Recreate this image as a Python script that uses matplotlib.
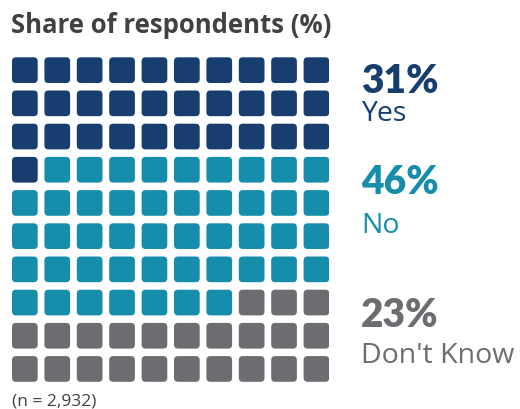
import matplotlib
matplotlib.use("Agg")
import matplotlib.pyplot as plt
from matplotlib.patches import FancyBboxPatch

# Survey answers (percent of respondents)
categories = ["Yes", "No", "Don't Know"]
shares = [31, 46, 23]
colors = ["#173e6f", "#168eab", "#6c6d70"]
title = "Share of respondents (%)"
note = "(n = 2,932)"

W, H = 520, 409
fig = plt.figure(figsize=(W / 100, H / 100), dpi=100)
fig.patch.set_facecolor("white")

def fx(px):
    return px / W

def fy(py):
    return 1 - py / H

# Waffle grid: 10 x 10 cells, filled row by row from the top-left
n_cols, n_rows = 10, 10
col_pitch, row_pitch, cell = 32.4, 33.2, 25.7
gx0, gy0 = 12, 57.3
grid_w = (n_cols - 1) * col_pitch + cell
grid_h = (n_rows - 1) * row_pitch + cell
ax = fig.add_axes([fx(gx0), fy(gy0 + grid_h), grid_w / W, grid_h / H])
ax.set_xlim(0, grid_w)
ax.set_ylim(grid_h, 0)
ax.axis("off")

cell_colors = []
for c, n in zip(colors, shares):
    cell_colors += [c] * n

for k, c in enumerate(cell_colors):
    r, col = divmod(k, n_cols)
    x = col * col_pitch
    y = r * row_pitch
    rad = 4.0
    box = FancyBboxPatch((x + rad, y + rad), cell - 2 * rad, cell - 2 * rad,
                         boxstyle=f"round,pad={rad}", facecolor=c,
                         edgecolor="none", linewidth=0)
    ax.add_patch(box)

sans = ["Open Sans", "DejaVu Sans"]
heavy = ["Lato", "DejaVu Sans"]
fig.text(fx(11), fy(33), title, fontsize=18.5, fontweight="bold",
         color="#414042", family=sans, va="baseline", ha="left")

pct_base = [93, 194, 327]
lab_base = [121, 233, 363]
for cat, v, c, pb, lb in zip(categories, shares, colors, pct_base, lab_base):
    fig.text(fx(361), fy(pb), f"{v}%", fontsize=28, fontweight="heavy",
             color=c, family=heavy, va="baseline", ha="left")
    fig.text(fx(361), fy(lb), cat, fontsize=20.5, color=c, family=sans,
             va="baseline", ha="left")

fig.text(fx(12), fy(406), note, fontsize=12.5, color="#414042", family=sans,
         va="baseline", ha="left")

fig.savefig("out.png", dpi=100, facecolor="white")
